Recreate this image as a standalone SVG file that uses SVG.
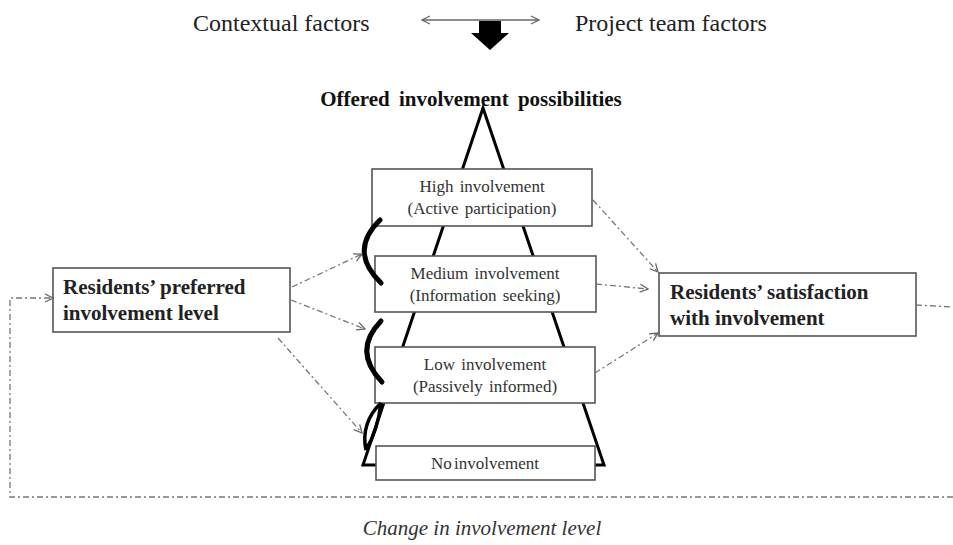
<svg xmlns="http://www.w3.org/2000/svg" width="953" height="545" viewBox="0 0 953 545">
<defs>
<style>
.top{font-family:"Liberation Serif",serif;font-size:24px;fill:#222}
.ttl{font-family:"Liberation Serif",serif;font-size:21px;font-weight:bold;fill:#111;word-spacing:4px}
.bx{fill:#fff;stroke:#555;stroke-width:1.6}
.bt{font-family:"Liberation Serif",serif;font-size:17px;fill:#333;text-anchor:middle;word-spacing:2px}
.bb{font-family:"Liberation Serif",serif;font-size:21px;font-weight:bold;fill:#222}
.dc{fill:none;stroke:#777;stroke-width:1.3;stroke-dasharray:6 3 2 3}
.br{fill:none;stroke:#000;stroke-width:5;stroke-linecap:round}
.cap{font-family:"Liberation Serif",serif;font-size:21px;font-style:italic;fill:#333;text-anchor:middle}
</style>
<marker id="ah" viewBox="0 0 10 10" refX="9" refY="5" markerWidth="10" markerHeight="10" markerUnits="userSpaceOnUse" orient="auto-start-reverse">
<path d="M1,1 L9,5 L1,9" fill="none" stroke="#666" stroke-width="1.3"/>
</marker>
</defs>
<rect width="953" height="545" fill="#fff"/>

<g id="header">
<text class="top" x="193" y="31">Contextual factors</text>
<text class="top" x="575" y="31">Project team factors</text>
<line x1="422" y1="20" x2="539" y2="20" stroke="#666" stroke-width="1.3" marker-start="url(#ah)" marker-end="url(#ah)"/>
<polygon points="479,21 501,21 501,33 509,33 490,50 471,33 479,33" fill="#000"/>
<text class="ttl" x="471" y="106" text-anchor="middle">Offered involvement possibilities</text>
</g>

<g id="pyramid">
<path d="M483,108 L363,465 L604,465 Z" fill="none" stroke="#000" stroke-width="3" stroke-linejoin="miter"/>
</g>

<g id="high">
<rect class="bx" x="372" y="169" width="220" height="57"/>
<text class="bt" x="482" y="192">High involvement</text>
<text class="bt" x="482" y="214">(Active participation)</text>
</g>
<g id="medium">
<rect class="bx" x="375" y="256" width="221" height="56"/>
<text class="bt" x="485" y="279">Medium involvement</text>
<text class="bt" x="485" y="301">(Information seeking)</text>
</g>
<g id="low">
<rect class="bx" x="375" y="347" width="220" height="56"/>
<text class="bt" x="485" y="370">Low involvement</text>
<text class="bt" x="485" y="392">(Passively  informed)</text>
</g>
<g id="none">
<rect class="bx" x="376" y="446" width="219" height="34"/>
<text class="bt" x="485" y="469" style="word-spacing:-2px">No involvement</text>
</g>

<g id="brackets">
<path class="br" d="M380,220 Q348,251 381,283"/>
<path class="br" d="M381,321 Q352,351 382,382"/>
<path fill="none" stroke="#000" stroke-width="3.5" d="M381,403 C368,415 362,432 366,450 M381,403 C379,420 373,438 366,450"/>
</g>

<g id="preferred">
<rect class="bx" x="53" y="268" width="237" height="64"/>
<text class="bb" x="63" y="294">Residents’ preferred</text>
<text class="bb" x="63" y="320">involvement level</text>
</g>
<g id="satisfaction">
<rect class="bx" x="659" y="273" width="257" height="63"/>
<text class="bb" x="670" y="299">Residents’ satisfaction</text>
<text class="bb" x="670" y="325">with involvement</text>
</g>

<g id="connectors">
<line class="dc" x1="292" y1="287" x2="362" y2="254" marker-end="url(#ah)"/>
<line class="dc" x1="291" y1="300" x2="365" y2="329" marker-end="url(#ah)"/>
<line class="dc" x1="278" y1="338" x2="362" y2="433" marker-end="url(#ah)"/>
<line class="dc" x1="593" y1="200" x2="658" y2="272" marker-end="url(#ah)"/>
<line class="dc" x1="596" y1="284" x2="648" y2="289" marker-end="url(#ah)"/>
<line class="dc" x1="595" y1="373" x2="658" y2="333" marker-end="url(#ah)"/>
<line class="dc" x1="916" y1="305" x2="953" y2="307"/>
<path class="dc" d="M953,497 L10,497 L10,298 L53,298" marker-end="url(#ah)"/>
</g>

<text class="cap" x="482" y="535">Change in involvement level</text>
</svg>
